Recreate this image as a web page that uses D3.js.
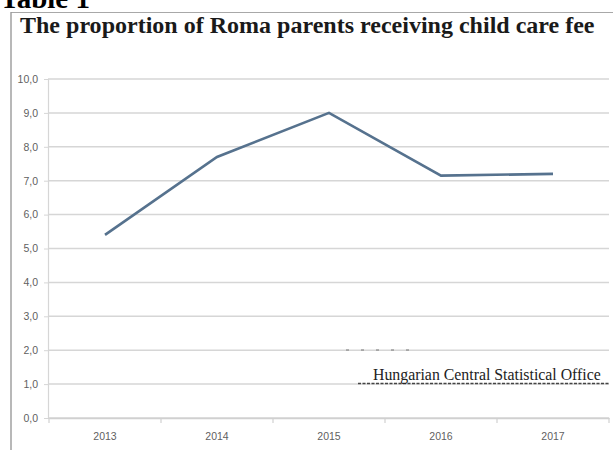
<!DOCTYPE html>
<html>
<head>
<meta charset="utf-8">
<script src="https://cdn.jsdelivr.net/npm/d3@7"></script>
<style>
  html, body { margin: 0; padding: 0; background: #fff; }
  svg { display: block; }
</style>
</head>
<body>
<script>
// Share of Roma parents receiving child care fee, by year (%)
const years = ["2013", "2014", "2015", "2016", "2017"];
const shares = [5.4, 7.7, 9.0, 7.15, 7.2];
const yTicks = [0, 1, 2, 3, 4, 5, 6, 7, 8, 9, 10];

const W = 613, H = 450;
const svg = d3.select("body").append("svg").attr("width", W).attr("height", H);

const serif = "'Liberation Serif', 'Times New Roman', serif";
const sans = "'Liberation Sans', Arial, sans-serif";

// caption above the frame, partly cut off at the top edge
svg.append("text")
  .attr("x", 0).attr("y", 8)
  .attr("font-family", serif).attr("font-weight", "bold")
  .attr("font-size", 29).attr("fill", "#000")
  .text("Table 1");

// frame around the figure
svg.append("line").attr("x1", 11).attr("x2", W).attr("y1", 12.5).attr("y2", 12.5)
  .attr("stroke", "#a8a8a8").attr("stroke-width", 1.2);
svg.append("line").attr("x1", 11).attr("x2", 11).attr("y1", 12).attr("y2", H)
  .attr("stroke", "#9a9a9a").attr("stroke-width", 1.4);

// title, sized to span the frame width
const title = svg.append("text")
  .attr("x", 20).attr("y", 33)
  .attr("font-family", serif).attr("font-weight", "bold")
  .attr("font-size", 20).attr("fill", "#1a1a1a")
  .text("The proportion of Roma parents receiving child care fee");
const tw = title.node().getComputedTextLength();
title.attr("font-size", 20 * 575 / tw);

const x = d3.scaleBand().domain(years).range([49, 609]);
const y = d3.scaleLinear().domain([0, 10]).range([418, 79]);

// horizontal gridlines
svg.append("g").selectAll("line").data(yTicks).join("line")
  .attr("x1", 48).attr("x2", 609)
  .attr("y1", d => y(d)).attr("y2", d => y(d))
  .attr("stroke", "#d6d6d6").attr("stroke-width", 1.5);

// y axis
const yAxis = svg.append("g").attr("transform", "translate(48,0)")
  .call(d3.axisLeft(y).tickValues(yTicks).tickSize(4).tickPadding(6)
    .tickFormat(d => d3.format(".1f")(d).replace(".", ",")));
yAxis.select(".domain").attr("stroke", "#d6d6d6").attr("stroke-width", 1.2);
yAxis.selectAll(".tick line").attr("stroke", "#d6d6d6");
yAxis.selectAll(".tick text")
  .attr("font-family", sans).attr("font-size", 10.5).attr("fill", "#5f5f5f");

// x axis with ticks at the category boundaries
const xAxis = svg.append("g").attr("transform", "translate(0,418)")
  .call(d3.axisBottom(x).tickSize(0).tickPadding(15));
xAxis.select(".domain").attr("stroke", "#d0d0d0").attr("stroke-width", 1.5);
xAxis.selectAll(".tick text")
  .attr("font-family", sans).attr("font-size", 10.5).attr("fill", "#5f5f5f");
svg.append("g").selectAll("line").data(years.concat([null])).join("line")
  .attr("x1", (d, i) => x.range()[0] + i * x.step())
  .attr("x2", (d, i) => x.range()[0] + i * x.step())
  .attr("y1", 418).attr("y2", 423)
  .attr("stroke", "#d0d0d0").attr("stroke-width", 1.2);

// data line
const line = d3.line()
  .x((d, i) => x(years[i]) + x.bandwidth() / 2)
  .y(d => y(d));
svg.append("path").datum(shares)
  .attr("d", line)
  .attr("fill", "none")
  .attr("stroke", "#56728e")
  .attr("stroke-width", 2.6)
  .attr("stroke-linejoin", "miter");

// source note
svg.append("line").attr("x1", 358).attr("x2", 610).attr("y1", 383.5).attr("y2", 383.5)
  .attr("stroke", "#444").attr("stroke-width", 1.3).attr("stroke-dasharray", "3,1.5");
svg.append("line").attr("x1", 346).attr("x2", 412).attr("y1", 350).attr("y2", 350)
  .attr("stroke", "#777").attr("stroke-width", 1).attr("stroke-dasharray", "3,12");
const src = svg.append("text")
  .attr("x", 373).attr("y", 380)
  .attr("font-family", serif).attr("font-size", 13).attr("fill", "#222")
  .text("Hungarian Central Statistical Office");
const sw = src.node().getComputedTextLength();
src.attr("font-size", 13 * 228 / sw);
</script>
</body>
</html>
